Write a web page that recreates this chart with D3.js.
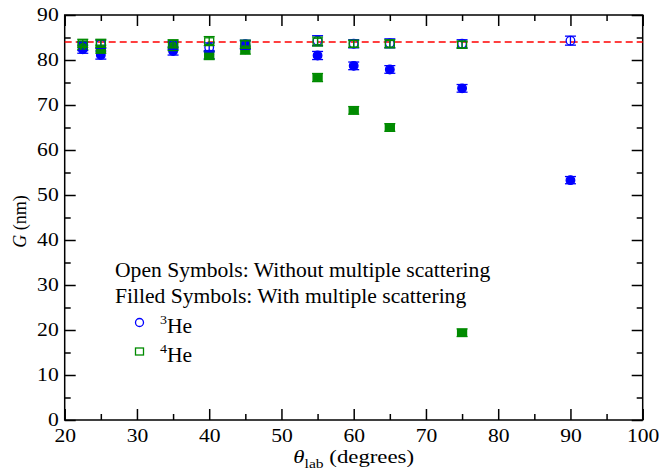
<!DOCTYPE html>
<html>
<head>
<meta charset="utf-8">
<script src="https://cdn.jsdelivr.net/npm/d3@7"></script>
<style>
  body { margin: 0; background: #fff; }
  text { font-family: "Liberation Serif", "Times New Roman", serif; fill: #000; }
</style>
</head>
<body>
<div id="chart"></div>
<script>
// data
const angles3 = [22.5, 25, 35, 40, 45, 55, 60, 65, 75, 90]
const he3Open = [83.0, 83.5, 83.3, 82.8, 83.3, 84.3, 83.6, 83.7, 83.6, 84.3]
const he3OpenErr = [0.9, 0.9, 0.9, 1.0, 0.9, 1.1, 0.9, 1.0, 0.9, 1.0]
const he3Filled = [82.4, 81.1, 82.0, 81.2, 83.5, 81.0, 78.7, 77.9, 73.7, 53.3]
const he3FilledErr = [0.9, 0.9, 0.9, 0.9, 0.9, 0.9, 0.85, 0.85, 0.85, 0.8]

const angles4 = [22.5, 25, 35, 40, 45, 55, 60, 65, 75]
const he4Open = [83.7, 83.7, 83.6, 84.2, 83.5, 84.1, 83.6, 83.6, 83.4]
const he4OpenErr = [0.9, 0.9, 0.9, 1.0, 0.9, 1.0, 0.8, 0.9, 0.8]
const he4Filled = [83.2, 82.4, 83.0, 81.0, 82.2, 76.1, 68.8, 65.0, 19.4]
const he4FilledErr = [0.9, 0.9, 0.9, 0.9, 0.9, 0.9, 0.85, 0.85, 0.85]

const refValue = 84
const xMajor = [20, 30, 40, 50, 60, 70, 80, 90, 100]
const xMinor = [25, 35, 45, 55, 65, 75, 85, 95]
const yMajor = [0, 10, 20, 30, 40, 50, 60, 70, 80, 90]
const yMinor = [5, 15, 25, 35, 45, 55, 65, 75, 85]

const width = 659
const height = 471
const margin = {top: 15, bottom: 51, left: 64.7, right: 16.3}
const innerW = width - margin.left - margin.right
const innerH = height - margin.top - margin.bottom
const blue = "#0000ff"
const green = "#008b00"
const sx = 1.2 // text looks horizontally stretched in the reference

const svg = d3.select("#chart").append("svg")
    .attr("width", width)
    .attr("height", height)

const g = svg.append("g")
    .attr("transform", `translate(${margin.left},${margin.top})`)

const x = d3.scaleLinear().domain([20, 100]).range([0, innerW])
const y = d3.scaleLinear().domain([0, 90]).range([innerH, 0])

// axes, ticks pointing inward on all four sides
function styleAxis(sel) {
    sel.select(".domain").remove()
    sel.selectAll("line").attr("stroke", "#000").attr("stroke-width", 1.5)
}
g.append("g").attr("transform", `translate(0,${innerH})`)
    .call(d3.axisBottom(x).tickValues(xMinor).tickSize(-6).tickFormat(""))
    .call(styleAxis)
g.append("g")
    .call(d3.axisTop(x).tickValues(xMinor).tickSize(-6).tickFormat(""))
    .call(styleAxis)
g.append("g")
    .call(d3.axisLeft(y).tickValues(yMinor).tickSize(-6).tickFormat(""))
    .call(styleAxis)
g.append("g").attr("transform", `translate(${innerW},0)`)
    .call(d3.axisRight(y).tickValues(yMinor).tickSize(-6).tickFormat(""))
    .call(styleAxis)
g.append("g")
    .call(d3.axisTop(x).tickValues(xMajor).tickSize(-11).tickFormat(""))
    .call(styleAxis)
g.append("g").attr("transform", `translate(${innerW},0)`)
    .call(d3.axisRight(y).tickValues(yMajor).tickSize(-11).tickFormat(""))
    .call(styleAxis)

const xAxisG = g.append("g").attr("transform", `translate(0,${innerH})`)
    .call(d3.axisBottom(x).tickValues(xMajor).tickSize(-11).tickPadding(9))
    .call(styleAxis)
xAxisG.selectAll("text")
    .attr("font-size", 18)
    .attr("transform", `scale(${sx},1)`)

const yAxisG = g.append("g")
    .call(d3.axisLeft(y).tickValues(yMajor).tickSize(-11).tickPadding(5))
    .call(styleAxis)
yAxisG.selectAll("text")
    .attr("font-size", 18)
    .attr("transform", `scale(${sx},1)`)

g.append("rect")
    .attr("width", innerW).attr("height", innerH)
    .attr("fill", "none").attr("stroke", "#000").attr("stroke-width", 1.5)

// reference line
g.append("line")
    .attr("x1", x(20)).attr("x2", x(100))
    .attr("y1", y(refValue)).attr("y2", y(refValue))
    .attr("stroke", "#ff0000").attr("stroke-width", 1.5)
    .attr("stroke-dasharray", "7,4")

function series(xs, ys, errs, color, shape, filled) {
    const data = xs.map((a, i) => ({a: a, v: ys[i], e: errs[i]}))
    const grp = g.append("g")
    const bars = grp.selectAll(".err").data(data).enter().append("g")
        .attr("stroke", color).attr("stroke-width", 1.3)
    bars.append("line")
        .attr("x1", d => x(d.a)).attr("x2", d => x(d.a))
        .attr("y1", d => y(d.v - d.e)).attr("y2", d => y(d.v + d.e))
    bars.append("line")
        .attr("x1", d => x(d.a) - 5.5).attr("x2", d => x(d.a) + 5.5)
        .attr("y1", d => y(d.v + d.e)).attr("y2", d => y(d.v + d.e))
    bars.append("line")
        .attr("x1", d => x(d.a) - 5.5).attr("x2", d => x(d.a) + 5.5)
        .attr("y1", d => y(d.v - d.e)).attr("y2", d => y(d.v - d.e))
    if (shape == "circle") {
        grp.selectAll("circle").data(data).enter().append("circle")
            .attr("cx", d => x(d.a)).attr("cy", d => y(d.v)).attr("r", 4.3)
            .attr("fill", filled ? color : "none")
            .attr("stroke", color).attr("stroke-width", 1.3)
    } else {
        grp.selectAll("rect").data(data).enter().append("rect")
            .attr("x", d => x(d.a) - 4.5).attr("y", d => y(d.v) - 3.3)
            .attr("width", 9).attr("height", 6.6)
            .attr("fill", filled ? color : "none")
            .attr("stroke", color).attr("stroke-width", 1.3)
    }
}
series(angles3, he3Filled, he3FilledErr, blue, "circle", true)
series(angles4, he4Filled, he4FilledErr, green, "square", true)
series(angles3, he3Open, he3OpenErr, blue, "circle", false)
series(angles4, he4Open, he4OpenErr, green, "square", false)

// axis titles
const xt = svg.append("text")
    .attr("transform", `translate(${margin.left + innerW / 2},463) scale(${sx},1)`)
    .attr("text-anchor", "middle").attr("font-size", 19)
xt.append("tspan").attr("font-style", "italic").text("θ")
xt.append("tspan").attr("font-size", 13).attr("dy", 5).text("lab")
xt.append("tspan").attr("dy", -5).text(" (degrees)")

const yt = svg.append("text")
    .attr("transform", `translate(26,${margin.top + innerH / 2 + 4}) rotate(-90)`)
    .attr("text-anchor", "middle").attr("font-size", 18)
yt.append("tspan").attr("font-style", "italic").text("G")
yt.append("tspan").text(" (nm)")

// legend
const legend = svg.append("g")
legend.append("text").attr("transform", "translate(115,277) scale(1.08,1)")
    .attr("font-size", 20).text("Open Symbols: Without multiple scattering")
legend.append("text").attr("transform", "translate(115,303) scale(1.08,1)")
    .attr("font-size", 20).text("Filled Symbols: With multiple scattering")
legend.append("circle").attr("cx", 139.5).attr("cy", 322.5).attr("r", 4)
    .attr("fill", "none").attr("stroke", blue).attr("stroke-width", 1.3)
legend.append("rect").attr("x", 135.5).attr("y", 348).attr("width", 8).attr("height", 7)
    .attr("fill", "none").attr("stroke", green).attr("stroke-width", 1.3)
const l3 = legend.append("text").attr("transform", "translate(160,333) scale(1.08,1)").attr("font-size", 20)
l3.append("tspan").attr("font-size", 13).attr("dy", -9).text("3")
l3.append("tspan").attr("dy", 9).text("He")
const l4 = legend.append("text").attr("transform", "translate(160,362) scale(1.08,1)").attr("font-size", 20)
l4.append("tspan").attr("font-size", 13).attr("dy", -9).text("4")
l4.append("tspan").attr("dy", 9).text("He")
</script>
</body>
</html>
